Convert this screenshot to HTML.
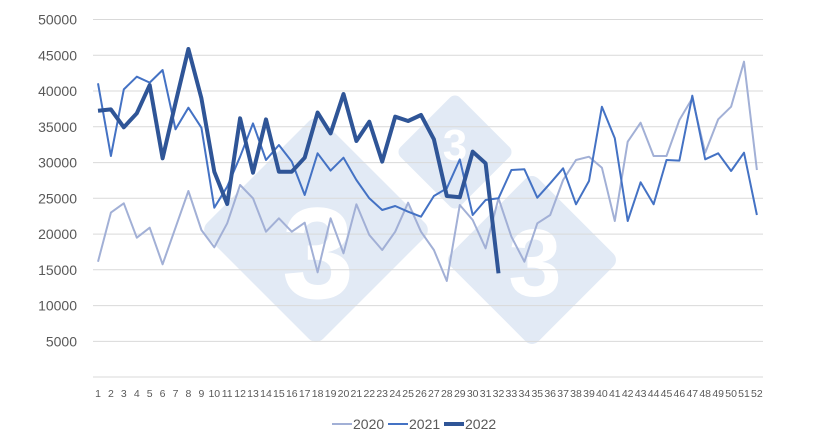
<!DOCTYPE html>
<html><head><meta charset="utf-8"><style>
html,body{margin:0;padding:0;background:#fff;}
svg{display:block;font-family:"Liberation Sans",Calibri,sans-serif;}
</style></head><body>
<svg width="820" height="441" viewBox="0 0 820 441" xmlns="http://www.w3.org/2000/svg">
<rect x="0" y="0" width="820" height="441" fill="#fff"/>
<!-- watermark -->
<g fill="#e2eaf5">
<rect x="-82" y="-82" width="164" height="164" rx="10" transform="translate(316,230) rotate(45)"/>
<rect x="-42" y="-42" width="84" height="84" rx="7" transform="translate(455,152) rotate(45)"/>
<rect x="-62" y="-62" width="124" height="124" rx="9" transform="translate(532,260) rotate(45)"/>
</g>
<g fill="#fff" font-weight="bold" text-anchor="middle" font-family="Liberation Sans,sans-serif">
<text x="318" y="298" font-size="130">3</text>
<text x="455" y="160" font-size="44">3</text>
<text x="535" y="296" font-size="96">3</text>
</g>
<!-- gridlines -->
<g stroke="#d9d9d9" stroke-width="1">
<line x1="93" x2="763" y1="19.5" y2="19.5"/><line x1="93" x2="763" y1="55.3" y2="55.3"/>
<line x1="93" x2="763" y1="91" y2="91"/><line x1="93" x2="763" y1="126.8" y2="126.8"/>
<line x1="93" x2="763" y1="162.6" y2="162.6"/><line x1="93" x2="763" y1="198.3" y2="198.3"/>
<line x1="93" x2="763" y1="234.1" y2="234.1"/><line x1="93" x2="763" y1="269.8" y2="269.8"/>
<line x1="93" x2="763" y1="305.6" y2="305.6"/><line x1="93" x2="763" y1="341.4" y2="341.4"/>
<line x1="93" x2="763" y1="377" y2="377"/>
</g>
<g font-size="14" fill="#595959" text-anchor="end">
<text x="77" y="24.5">50000</text><text x="77" y="60.3">45000</text><text x="77" y="96">40000</text>
<text x="77" y="131.8">35000</text><text x="77" y="167.6">30000</text><text x="77" y="203.3">25000</text>
<text x="77" y="239.1">20000</text><text x="77" y="274.8">15000</text><text x="77" y="310.6">10000</text>
<text x="77" y="346.4">5000</text>
</g>
<g id="xl" font-size="10.5" fill="#595959" text-anchor="middle"></g>
<polyline id="s20" fill="none" stroke="#a2b0d6" stroke-width="2" stroke-linejoin="round"/>
<polyline id="s21" fill="none" stroke="#4472c4" stroke-width="2" stroke-linejoin="round"/>
<polyline id="s22" fill="none" stroke="#2f5597" stroke-width="4" stroke-linejoin="round"/>
<!-- legend -->
<line x1="332" x2="352" y1="424" y2="424" stroke="#a2b0d6" stroke-width="2"/>
<text x="353" y="429" font-size="14" fill="#595959">2020</text>
<line x1="388" x2="408" y1="424" y2="424" stroke="#4472c4" stroke-width="2"/>
<text x="409" y="429" font-size="14" fill="#595959">2021</text>
<line x1="444" x2="464" y1="424" y2="424" stroke="#2f5597" stroke-width="4"/>
<text x="465" y="429" font-size="14" fill="#595959">2022</text>
</svg>
<script>
var d20=[16120,22970,24280,19470,20870,15750,20870,26000,20550,18130,21480,26830,24970,20310,22180,20310,21570,14630,22180,17290,24140,19850,17750,20310,24360,20310,17750,13420,24040,21940,17990,24970,19610,16120,21480,22640,27530,30330,30790,29250,21800,32890,35540,30890,30890,35920,38950,31350,36010,37780,44070,28930];
var d21=[41050,30890,40200,41970,41140,42910,34620,37640,34840,23660,26600,30790,35450,30330,32420,30100,25440,31260,28840,30650,27530,24970,23340,23900,23100,22400,25300,26370,30410,22640,24740,24970,28930,29030,25060,27070,29170,24130,27390,37780,33360,21800,27210,24130,30330,30240,39320,30420,31260,28790,31350,22640];
var d22=[37200,37400,34900,36850,40800,30560,38300,45840,38950,28700,24180,36150,28550,36000,28700,28700,30650,36950,34050,39550,32980,35680,30100,36380,35780,36620,33220,25300,25110,31490,29870,14490];
function X(i){return 98+i*12.92;}function Y(v){return 377-v*0.007155;}
function pts(a){return a.map(function(v,i){return X(i).toFixed(1)+","+Y(v).toFixed(1);}).join(" ");}
document.getElementById("s20").setAttribute("points",pts(d20));
document.getElementById("s21").setAttribute("points",pts(d21));
document.getElementById("s22").setAttribute("points",pts(d22));
var g=document.getElementById("xl"),ns="http://www.w3.org/2000/svg";
for(var i=0;i<52;i++){var t=document.createElementNS(ns,"text");t.setAttribute("x",X(i).toFixed(1));t.setAttribute("y","397");t.textContent=String(i+1);g.appendChild(t);}
</script>
</body></html>
